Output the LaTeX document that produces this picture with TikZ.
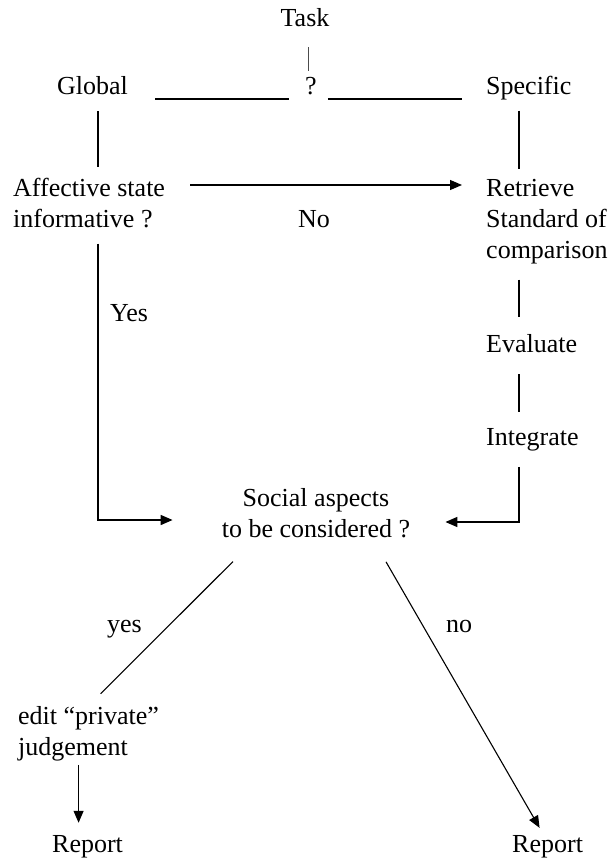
\documentclass[tikz,border=0pt]{standalone}
\usepackage{fontspec}
\setmainfont{Liberation Serif}
\usetikzlibrary{arrows.meta}
\begin{document}
\begin{tikzpicture}[x=1pt,y=-1pt,
 txt/.style={inner sep=0pt,anchor=base west},
 rule/.style={line width=1.6pt},
 link/.style={line width=1.2pt},
 diag/.style={line width=1.1pt},
 >={Triangle[length=12pt,width=10pt]},
 font={\fontsize{26pt}{31pt}\selectfont}]
\useasboundingbox[fill=white] (0,0) rectangle (615,861);
\coordinate (lcol) at (98,0); \coordinate (rcol) at (519,0);
\node[txt,anchor=base] (task) at (305,27) {Task};
\node[txt,anchor=base] (q) at (311,95) {?};
\node[txt] (global) at (57,95) {Global};
\node[txt] (specific) at (486,95) {Specific};
\node[txt,align=left] (affect) at (13,227) {Affective state\\informative ?};
\node[txt,align=left] (retrieve) at (486,258) {Retrieve\\Standard of\\comparison};
\node[txt,anchor=base] (no) at (314,227) {No};
\node[txt] (yes) at (110,321) {Yes};
\node[txt] (evaluate) at (486,352) {Evaluate};
\node[txt] (integrate) at (486,445) {Integrate};
\node[txt,anchor=base,align=center] (social) at (316,537) {Social aspects\\to be considered ?};
\node[txt] (yes2) at (107,632) {yes};
\node[txt] (no2) at (446,632) {no};
\node[txt,align=left] (edit) at (18,755) {edit “private”\\judgement};
\node[txt] (reportL) at (52,852) {Report};
\node[txt] (reportR) at (512,852) {Report};
\draw[line width=0.6pt,black!70,shorten <=20pt,shorten >=7pt] ([xshift=3pt]task.south) -- ([xshift=-3pt]q.north);
\draw[rule,shorten <=27pt,shorten >=16pt] ([yshift=-4pt]global.base east) -- ([yshift=-4pt]q.base west);
\draw[rule,shorten <=11pt,shorten >=24pt] ([yshift=-4pt]q.base east) -- ([yshift=-4pt]specific.base west);
\draw[rule,shorten <=16pt,shorten >=10pt] (global.south -| lcol) -- (affect.north -| lcol);
\draw[rule,shorten <=10pt,shorten >=10pt] (specific.south -| rcol) -- (retrieve.north -| rcol);
\draw[link,->,shorten <=25pt,shorten >=24pt] ([yshift=42pt]affect.base east) -- ([yshift=73pt]retrieve.base west);
\draw[rule,shorten <=16pt,shorten >=17pt] (retrieve.south -| rcol) -- (evaluate.north -| rcol);
\draw[rule,shorten <=22pt,shorten >=16pt] (evaluate.south -| rcol) -- (integrate.north -| rcol);
\draw[rule,->,shorten <=16pt,shorten >=49pt] (affect.south -| lcol) |- ([yshift=17pt]social.base west);
\draw[rule,->,shorten <=16pt,shorten >=35pt] (integrate.south -| rcol) |- ([yshift=15pt]social.base east);
\draw[diag,shorten <=34pt,shorten >=17pt] ([xshift=-59pt]social.south) -- (edit.north);
\draw[diag,->,shorten <=28pt,shorten >=8pt] ([xshift=56pt]social.south) -- ([xshift=-4pt]reportR.north);
\draw[link,->,shorten <=4pt,shorten >=12pt] ([xshift=-10pt]edit.south) -- ([xshift=-10pt]edit.south |- reportL.north);
\end{tikzpicture}
\end{document}
